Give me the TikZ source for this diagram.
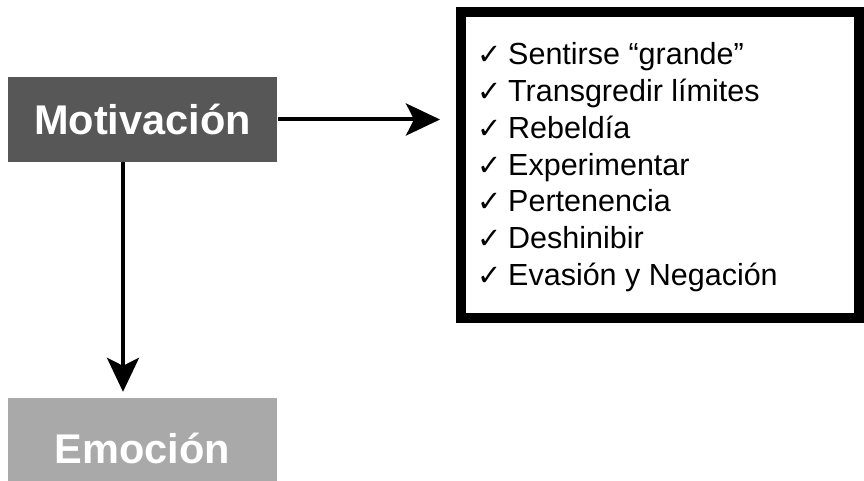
\documentclass[tikz,border=0pt]{standalone}
\usepackage{fontspec}
\setmainfont{Liberation Sans}
\newfontfamily\dvfont{DejaVu Sans}
\usetikzlibrary{arrows.meta}
\definecolor{motfill}{HTML}{575757}
\definecolor{emofill}{HTML}{A9A9A9}
\tikzset{
  bigbox/.style={rectangle, inner sep=0pt, text=white,
    font=\fontsize{41.5}{48}\selectfont\bfseries,
    minimum width=269pt},
  listframe/.style={rectangle, draw=black, line width=10pt, fill=white,
    minimum width=398pt, minimum height=306pt, inner sep=0pt},
  listitem/.style={anchor=base west, inner sep=0pt,
    font=\fontsize{30.5}{36.7}\selectfont},
  conn/.style={line width=4pt, -{Stealth[length=34pt, width=32pt, inset=8pt]}},
}
\newcommand{\ckmark}{\makebox[31pt][l]{\dvfont\fontsize{29}{34}\selectfont ✓}}
\begin{document}
\begin{tikzpicture}[x=1pt,y=-1pt]
\useasboundingbox (0,0) rectangle (864,481);
\clip (0,0) rectangle (864,481);
\fill[white] (0,0) rectangle (864,481);

\node[bigbox, fill=motfill, minimum height=85pt] (mot) at (142.5,119.5) {Motivación};
\node[bigbox, fill=emofill, minimum height=100pt] (emo) at (142.5,448) {Emoción};

\node[listframe] (lst) at (660,165) {};

\foreach \t [count=\i] in {Sentirse “grande”, Transgredir límites, Rebeldía, Experimentar, Pertenencia, Deshinibir, Evasión y Negación}{
  \node[listitem] (l\i) at (477, {65+36.7*(\i-1)}) {\ckmark\t};
}

\draw[conn, shorten <=1pt, shorten >=16pt] (mot.east) -- (lst.west |- mot.east);
\draw[conn, shorten >=6pt] ([xshift=-19.5pt]mot.south) -- ([xshift=-19.5pt]emo.north);
\end{tikzpicture}
\end{document}
